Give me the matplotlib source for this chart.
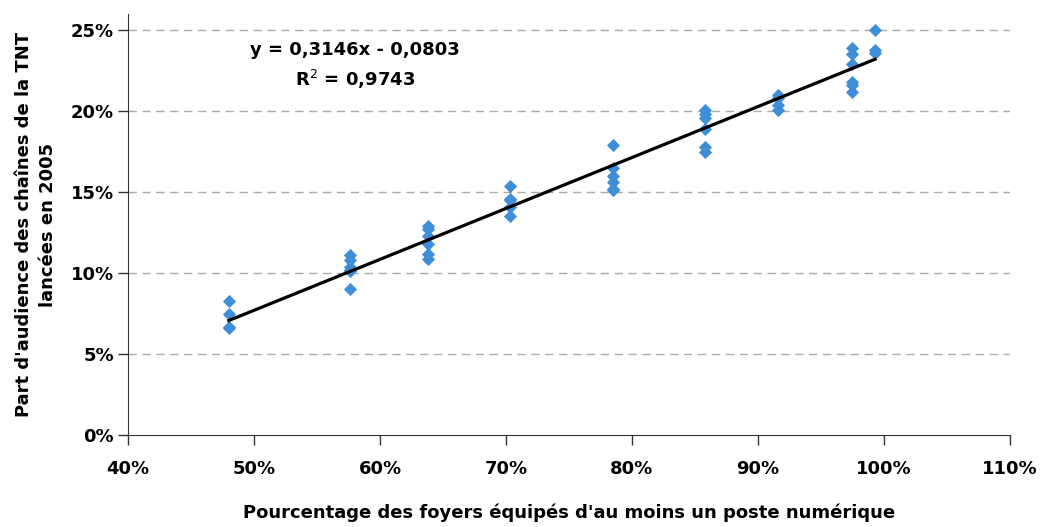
import numpy as np
import matplotlib
matplotlib.use("Agg")
import matplotlib.pyplot as plt
from matplotlib.ticker import FuncFormatter

plt.rcParams['font.family'] = ['DejaVu Sans']

# taux d'equipement (x) et part d'audience (y) par groupe
x_groups = [0.480, 0.576, 0.638, 0.703, 0.785, 0.858, 0.916, 0.975, 0.993]
y_groups = [
    [0.083, 0.075, 0.066, 0.067],
    [0.111, 0.108, 0.104, 0.102, 0.101, 0.090],
    [0.129, 0.127, 0.123, 0.118, 0.112, 0.109],
    [0.154, 0.146, 0.145, 0.141, 0.135],
    [0.179, 0.165, 0.160, 0.156, 0.152, 0.151],
    [0.201, 0.198, 0.196, 0.189, 0.178, 0.175],
    [0.210, 0.208, 0.204, 0.201],
    [0.239, 0.235, 0.229, 0.218, 0.216, 0.212],
    [0.250, 0.238, 0.236],
]
slope, intercept, r2 = 0.3146, -0.0803, 0.9743

xs = np.concatenate([[x] * len(ys) for x, ys in zip(x_groups, y_groups)])
ys = np.concatenate(y_groups)

FS = 13

fig = plt.figure(figsize=(10.41, 5.27), dpi=100)
ax = fig.add_axes([128 / 1041, 1 - 435 / 527, 882 / 1041, 421 / 527])

ax.scatter(xs, ys, marker='D', s=45, color='#3F8ED8', zorder=3, linewidths=0)
xl = np.array([min(x_groups), max(x_groups)])
ax.plot(xl, slope * xl + intercept, color='black', lw=2.3, zorder=4)

ax.set_xlim(0.4, 1.1)
ax.set_ylim(0, 0.26)
ax.set_xticks(np.arange(0.4, 1.101, 0.1))
ax.set_yticks(np.arange(0, 0.251, 0.05))
pct = FuncFormatter(lambda v, p: f"{v * 100:.0f}%")
ax.xaxis.set_major_formatter(pct)
ax.yaxis.set_major_formatter(pct)
for lab in ax.get_xticklabels() + ax.get_yticklabels():
    lab.set_fontweight('bold')
ax.tick_params(labelsize=FS, direction='out', length=7, width=1, color='#333333')
ax.tick_params(axis='x', pad=11)
ax.tick_params(axis='y', pad=3)

for v in np.arange(0.05, 0.251, 0.05):
    ax.axhline(v, color='#AAAAAA', lw=1, ls=(0, (6, 4)), zorder=1)

ax.spines['top'].set_visible(False)
ax.spines['right'].set_visible(False)
for s in ('left', 'bottom'):
    ax.spines[s].set_color('#333333')

ax.set_xlabel("Pourcentage des foyers équipés d'au moins un poste numérique",
              fontsize=FS, fontweight='bold', labelpad=18)
ax.set_ylabel("Part d'audience des chaînes de la TNT\nlancées en 2005",
              fontsize=FS, fontweight='bold', labelpad=10, linespacing=1.45)

eq = f"y = {slope:.4f}x - {abs(intercept):.4f}".replace('.', ',')
ax.text(0.580, 0.238, eq, fontsize=FS, fontweight='bold', ha='center', va='center')
ax.text(0.580, 0.2195, f"R$^2$ = {r2:.4f}".replace('.', ','), fontsize=FS,
        fontweight='bold', ha='center', va='center')

fig.savefig("out.png", dpi=100)
